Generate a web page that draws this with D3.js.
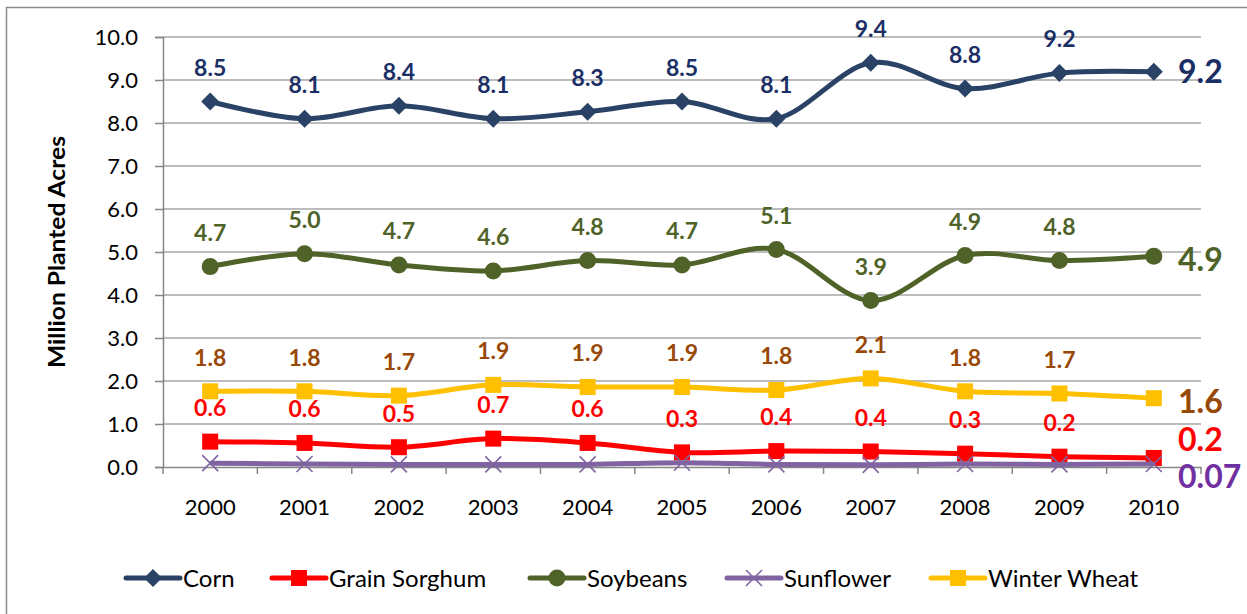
<!DOCTYPE html>
<html>
<head>
<meta charset="utf-8">
<script src="https://cdn.jsdelivr.net/npm/d3@7"></script>
<style>
  body { margin: 0; background: #fff; }
  svg { display: block; }
  text { font-family: Lato, "Open Sans", sans-serif; }
</style>
</head>
<body>
<div id="chart"></div>
<script>
// data
const years = ["2000","2001","2002","2003","2004","2005","2006","2007","2008","2009","2010"];
const corn      = [8.5, 8.1, 8.4, 8.1, 8.26, 8.5, 8.1, 9.4, 8.8, 9.16, 9.19];
const sorghum   = [0.59, 0.56, 0.46, 0.66, 0.56, 0.34, 0.37, 0.36, 0.31, 0.24, 0.21];
const soybeans  = [4.66, 4.96, 4.7, 4.56, 4.8, 4.7, 5.06, 3.87, 4.92, 4.8, 4.9];
const sunflower = [0.09, 0.07, 0.06, 0.06, 0.06, 0.1, 0.06, 0.05, 0.07, 0.06, 0.07];
const wheat     = [1.76, 1.76, 1.66, 1.91, 1.86, 1.86, 1.79, 2.06, 1.76, 1.71, 1.6];
const endLabels = ["9.2", "0.2", "4.9", "0.07", "1.6"];
const yTicks = [0,1,2,3,4,5,6,7,8,9,10];

const series = [
  {name: "Corn", values: corn, color: "#294265", label: "#1B2F66", marker: "diamond", showLabels: true, endDy: 0},
  {name: "Grain Sorghum", values: sorghum, color: "#FF0000", label: "#FF0000", marker: "square", showLabels: true, endDy: -18},
  {name: "Soybeans", values: soybeans, color: "#4F6228", label: "#4F6228", marker: "circle", showLabels: true, endDy: 3},
  {name: "Sunflower", values: sunflower, color: "#8064A2", label: "#7030A0", marker: "x", showLabels: false, endDy: 12},
  {name: "Winter Wheat", values: wheat, color: "#FFC000", label: "#984807", marker: "square", showLabels: true, endDy: 3}
];

const W = 1247, H = 614;
const svg = d3.select("#chart").append("svg").attr("width", W).attr("height", H);

// outer frame
svg.append("rect")
  .attr("x", 6.5).attr("y", 7.5).attr("width", 1260).attr("height", 620)
  .attr("fill", "none").attr("stroke", "#8c8c8c").attr("stroke-width", 1.5);

const x = d3.scaleBand().domain(years).range([163, 1201]);
const y = d3.scaleLinear().domain([0, 10]).range([467, 37]);
const cx = d => x(d) + x.bandwidth() / 2;

// gridlines
svg.append("g").selectAll("line")
  .data(yTicks.filter(t => t > 0))
  .join("line")
  .attr("x1", 163).attr("x2", 1201)
  .attr("y1", d => y(d)).attr("y2", d => y(d))
  .attr("stroke", "#a6a6a6").attr("stroke-width", 1.5);

// y axis
const yAxis = svg.append("g")
  .attr("transform", "translate(163,0)")
  .call(d3.axisLeft(y).tickValues(yTicks).tickFormat(d3.format(".1f")).tickSize(8).tickPadding(17));
yAxis.select(".domain").attr("stroke", "#868686").attr("stroke-width", 1.5);
yAxis.selectAll(".tick line").attr("stroke", "#868686").attr("stroke-width", 1.5);
yAxis.selectAll(".tick text").attr("font-size", 22).attr("fill", "#000")
  .attr("font-family", "Lato, sans-serif");

// x axis
const xAxis = svg.append("g")
  .attr("transform", "translate(0,467)")
  .call(d3.axisBottom(x).tickSize(0).tickPadding(32));
xAxis.select(".domain").attr("stroke", "#868686").attr("stroke-width", 1.5);
xAxis.selectAll(".tick text").attr("font-size", 22).attr("fill", "#000")
  .attr("font-family", "Lato, sans-serif");
// tick marks between categories
xAxis.append("g").selectAll("line")
  .data(years.concat(["end"]))
  .join("line")
  .attr("x1", (d, i) => 163 + i * x.bandwidth())
  .attr("x2", (d, i) => 163 + i * x.bandwidth())
  .attr("y1", 0).attr("y2", 7)
  .attr("stroke", "#868686").attr("stroke-width", 1.5);

// y title
svg.append("text")
  .attr("transform", "translate(65,252) rotate(-90)")
  .attr("text-anchor", "middle")
  .attr("font-size", 22).attr("font-weight", "bold")
  .attr("textLength", 232).attr("lengthAdjust", "spacingAndGlyphs")
  .text("Million Planted Acres");

function drawMarker(g, type, color, px, py) {
  if (type === "diamond") {
    g.append("path").attr("d", `M${px},${py-9}L${px+9},${py}L${px},${py+9}L${px-9},${py}Z`).attr("fill", color);
  } else if (type === "square") {
    g.append("rect").attr("x", px - 8).attr("y", py - 8).attr("width", 16).attr("height", 16).attr("fill", color);
  } else if (type === "circle") {
    g.append("circle").attr("cx", px).attr("cy", py).attr("r", 8.5).attr("fill", color);
  } else if (type === "x") {
    g.append("path").attr("d", `M${px-8},${py-8}L${px+8},${py+8}M${px-8},${py+8}L${px+8},${py-8}`)
      .attr("stroke", color).attr("stroke-width", 1.6).attr("fill", "none");
  }
}

const line = d3.line()
  .x((d, i) => cx(years[i]))
  .y(d => y(d))
  .curve(d3.curveCardinal.tension(0));

series.forEach(s => {
  const g = svg.append("g");
  g.append("path").datum(s.values)
    .attr("d", line)
    .attr("fill", "none").attr("stroke", s.color).attr("stroke-width", 5)
    .attr("stroke-linejoin", "round");
  s.values.forEach((v, i) => drawMarker(g, s.marker, s.color, cx(years[i]), y(v)));
});

// data labels
series.forEach(s => {
  if (!s.showLabels) return;
  svg.append("g").selectAll("text")
    .data(s.values.slice(0, -1))
    .join("text")
    .attr("x", (d, i) => cx(years[i]))
    .attr("y", d => y(d) - 34)
    .attr("dy", "0.36em")
    .attr("text-anchor", "middle")
    .attr("font-size", 23).attr("font-weight", "bold")
    .attr("fill", s.label)
    .text(d => d.toFixed(1));
});

// end labels
series.forEach((s, k) => {
  const last = s.values[s.values.length - 1];
  svg.append("text")
    .attr("x", 1178)
    .attr("y", y(last) + s.endDy)
    .attr("dy", "0.36em")
    .attr("font-size", 32).attr("font-weight", "bold")
    .attr("fill", s.label)
    .text(endLabels[k]);
});

// legend
const legendX = [126, 272, 530, 727, 931];
const lg = svg.append("g");
series.forEach((s, i) => {
  const lx = legendX[i], ly = 578;
  lg.append("line").attr("x1", lx).attr("x2", lx + 54).attr("y1", ly).attr("y2", ly)
    .attr("stroke", s.color).attr("stroke-width", 5).attr("stroke-linecap", "round");
  drawMarker(lg, s.marker, s.color, lx + 27, ly);
  lg.append("text").attr("x", lx + 57).attr("y", ly).attr("dy", "0.36em")
    .attr("font-size", 24).attr("fill", "#000")
    .text(s.name);
});
</script>
</body>
</html>
